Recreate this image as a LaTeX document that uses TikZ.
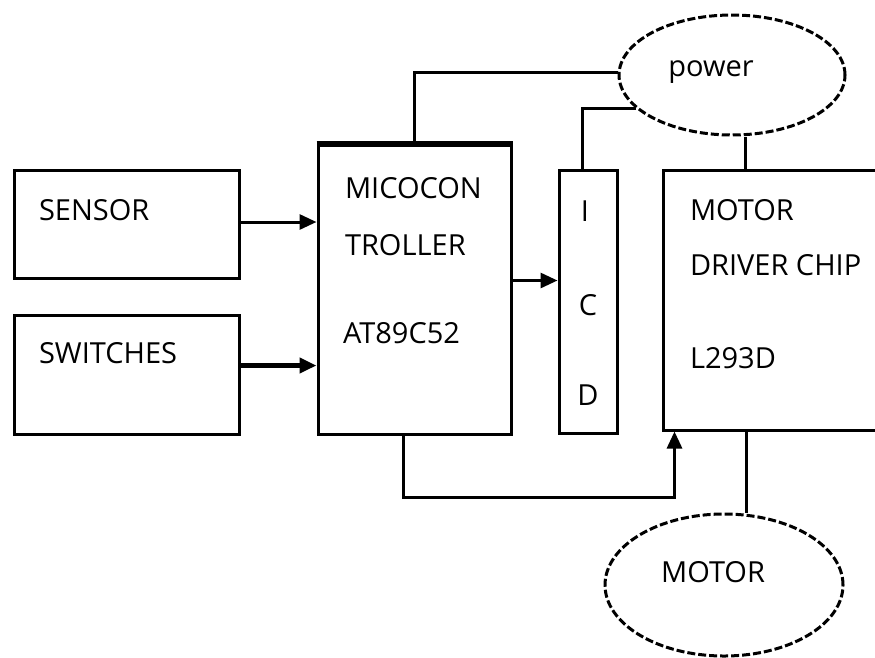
\documentclass[tikz,border=0pt]{standalone}
\usepackage{fontspec}
\setmainfont{Open Sans}
\usetikzlibrary{arrows.meta, positioning, shapes.geometric}
\tikzset{
  every picture/.style={line width=3pt},
  block/.style={draw, rectangle, inner sep=0pt},
  oval/.style={draw, ellipse, inner sep=0pt, dash pattern=on 8pt off 3pt},
  txt/.style={anchor=west, inner sep=0pt, font=\fontsize{29}{34}\selectfont},
  arrow/.style={-{Triangle[length=17pt, width=15pt]}},
  wire/.style={line width=3pt},
}

\begin{document}
\begin{tikzpicture}[x=1pt, y=-1pt]
  \useasboundingbox (0,0) rectangle (875,657);
  % blocks
  \node[block, minimum width=225pt, minimum height=108pt] (sensor) at (126.5,224) {};
  \node[block, minimum width=225pt, minimum height=119pt] (switches) at (126.5,374.5) {};
  \node[block, minimum width=193pt, minimum height=289pt] (micro) at (414.5,289.5) {};
  \node[block, minimum width=58pt, minimum height=263pt] (lcd) at (588,301.5) {};
  \node[block, minimum width=240pt, minimum height=260pt] (driver) at (783,300) {};
  \node[oval, minimum width=226pt, minimum height=120pt] (power) at (732,75) {};
  \node[oval, minimum width=238pt, minimum height=142pt] (motor) at (724,585) {};
  \draw[line width=6pt] (micro.north west) -- (micro.north east);
  % texts
  \node[txt] (sensortxt) at ([shift={(25,42)}]sensor.north west) {SENSOR};
  \node[txt] (switchestxt) at ([shift={(25,40)}]switches.north west) {SWITCHES};
  \node[txt] (microa) at ([shift={(27,45)}]micro.north west) {MICOCON};
  \node[txt, below=32pt of microa.south west, anchor=north west] (microb) {TROLLER};
  \node[txt] (microc) at ([shift={(25,190)}]micro.north west) {AT89C52};
  \node[txt, anchor=center] (lcdl) at ([shift={(-3,43)}]lcd.north) {I};
  \node[txt, anchor=center] (lcdc) at ([shift={(0,137)}]lcd.north) {C};
  \node[txt, anchor=center] (lcdd) at ([shift={(0,227)}]lcd.north) {D};
  \node[txt] (drivera) at ([shift={(27,42)}]driver.north west) {MOTOR};
  \node[txt] (driverb) at ([shift={(27,97)}]driver.north west) {DRIVER CHIP};
  \node[txt] (driverc) at ([shift={(27,190)}]driver.north west) {L293D};
  \node[txt, anchor=center] (powertxt) at ([shift={(-21,-3)}]power.center) {power};
  \node[txt, anchor=center] (motortxt) at ([shift={(-11,-13)}]motor.center) {MOTOR};
  % connectors
  \draw[arrow] ([yshift=2pt]sensor.east) -- ([yshift=2pt]sensor.east -| micro.west);
  \draw[arrow, line width=4.5pt] ([yshift=9pt]switches.east) -- ([yshift=9pt]switches.east -| micro.west);
  \draw[arrow] ([yshift=9pt]micro.east) -- ([yshift=9pt]micro.east -| lcd.west);
  \draw[arrow] ([xshift=-11pt]micro.south) -- ++(0,62) -| ([xshift=13pt]driver.south west);
  \draw[wire] (micro.north) |- ([yshift=3pt]power.west);
  \draw[wire] ([xshift=-6pt]lcd.north) |- (power.199);
  \draw[wire] ([xshift=-38pt]driver.north) -- ([xshift=-38pt]driver.north |- power.south);
  \draw[wire] ([xshift=-37pt]driver.south) -- ([xshift=-37pt]driver.south |- motor.north);
\end{tikzpicture}
\end{document}
